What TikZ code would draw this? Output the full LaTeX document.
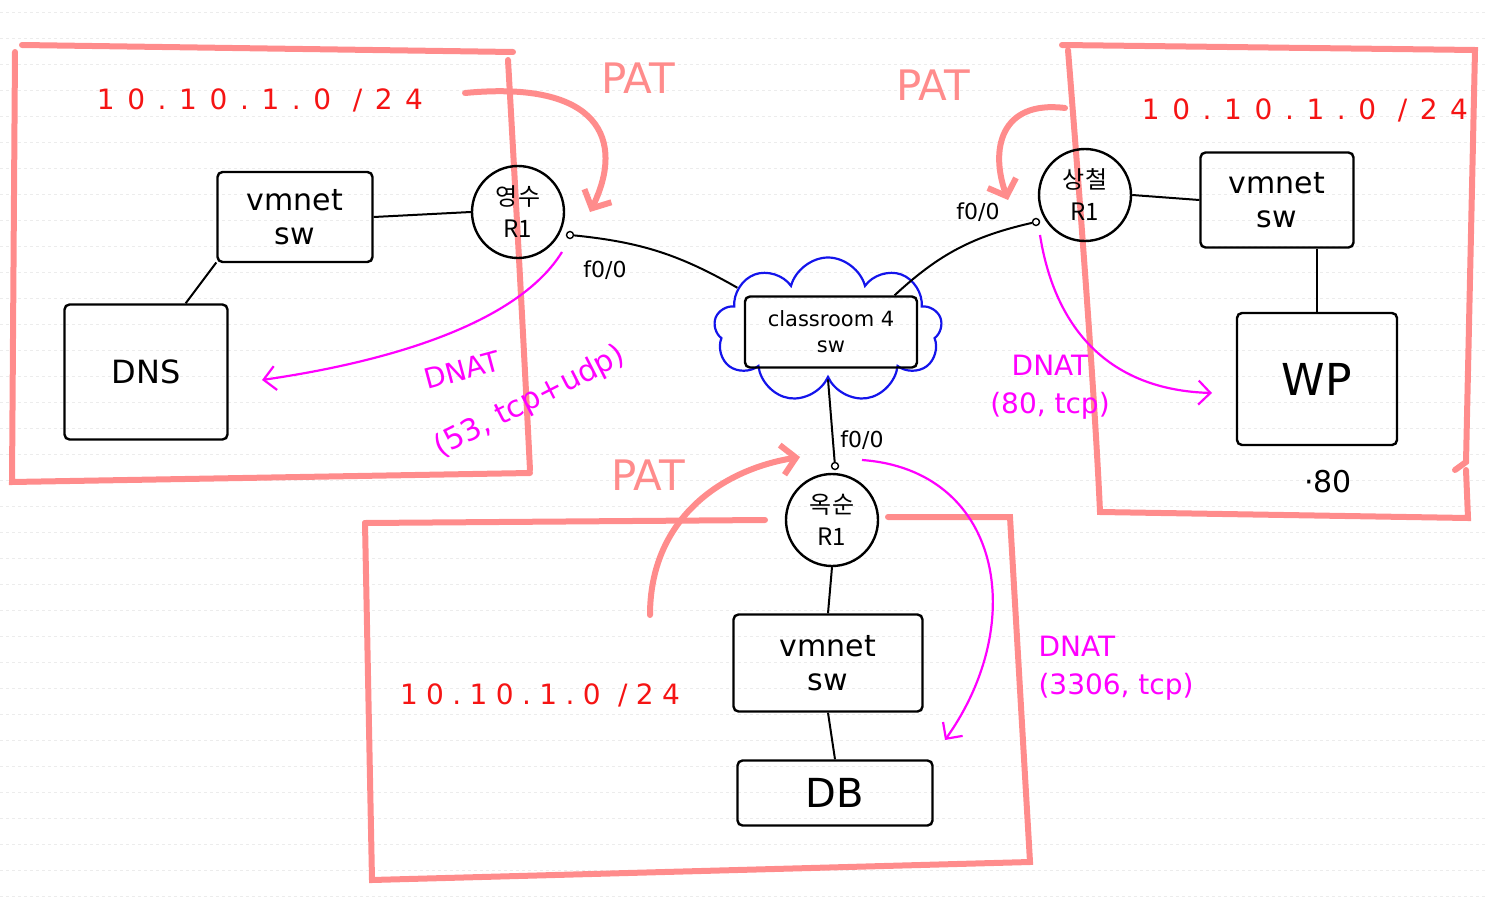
\documentclass[tikz,border=0pt]{standalone}
\usepackage{fontspec}
\setmainfont{DejaVu Sans}
\newfontfamily\krfont{Noto Sans CJK KR}
\usetikzlibrary{shapes.symbols,arrows.meta}

\definecolor{patpink}{RGB}{255,140,140}
\definecolor{ipred}{RGB}{245,20,20}
\definecolor{natpink}{RGB}{255,0,255}
\definecolor{cloudblue}{RGB}{20,20,235}
\definecolor{rulegray}{RGB}{236,236,236}

\newcommand\swfont{\fontsize{30}{34}\selectfont}

\tikzset{
  box/.style={draw, line width=2.4pt, rounded corners=5pt, align=center, inner sep=2pt},
  router/.style={draw, circle, line width=2.4pt, minimum size=92pt, inner sep=0pt,
    align=center, font=\krfont\fontsize{24}{32}\selectfont},
  port/.style={draw, circle, line width=1.4pt, minimum size=7pt, inner sep=0pt},
  link/.style={line width=2pt},
  portlbl/.style={font=\fontsize{22}{24}\selectfont},
  lan/.style={patpink, line width=6pt, line cap=round},
  patarrow/.style={lan, -{Straight Barb[length=14pt,width=30pt]}},
  patlbl/.style={patpink, font=\fontsize{42}{44}\selectfont},
  iplabel/.style={ipred, font=\fontsize{28}{30}\selectfont\addfontfeatures{LetterSpace=45}},
  dnat/.style={natpink, line width=2.2pt, -{Straight Barb[length=12pt,width=24pt]}},
  dnatlbl/.style={natpink, font=\fontsize{28}{38}\selectfont},
}

\begin{document}
\begin{tikzpicture}[x=1pt, y=-1pt]
  \useasboundingbox (0,0) rectangle (1486,902);
  % ruled paper
  \foreach \y in {12,38,...,900}
    \draw[rulegray, dashed, line width=0.8pt] (0,\y) -- (1486,\y);

  % LAN outlines
  \draw[lan] (22,45) -- (513,52);
  \draw[lan] (15,52) -- (12,482) -- (530,473);
  \draw[lan] (508,60) .. controls (516,200) and (524,350) .. (530,470);
  \draw[lan] (1062,45) -- (1475,50) -- (1466,462) -- (1455,470);
  \draw[lan] (1068,50) .. controls (1080,200) and (1095,400) .. (1100,512) -- (1468,518) -- (1466,470);
  \draw[lan] (365,523) -- (765,520);
  \draw[lan] (888,517) -- (1010,517) -- (1030,862) -- (372,880) -- (365,523);

  % PAT
  \node[patlbl] (patL) at (638,78) {PAT};
  \node[patlbl] (patR) at (933,85) {PAT};
  \node[patlbl] (patB) at (648,475) {PAT};
  \coordinate (patLfrom) at (465,93);
  \coordinate (patLto) at (590,212);
  \coordinate (patRfrom) at (1065,108);
  \coordinate (patRto) at (1008,200);
  \coordinate (patBfrom) at (650,615);
  \coordinate (patBto) at (800,457);
  \draw[patarrow] (patLfrom) .. controls (600,80) and (625,140) .. (patLto);
  \draw[patarrow] (patRfrom) .. controls (1000,100) and (990,150) .. (patRto);
  \draw[patarrow] (patBfrom) .. controls (650,520) and (720,470) .. (patBto);

  % subnets
  \node[iplabel] (ipL) at (260,100) {10.10.1.0 /24};
  \node[iplabel] (ipR) at (1305,110) {10.10.1.0 /24};
  \node[iplabel, font=\fontsize{28}{30}\selectfont\addfontfeatures{LetterSpace=30}] (ipB) at (540,695) {10.10.1.0 /24};

  % left site
  \node[box, minimum width=155pt, minimum height=90pt, font=\swfont] (vmnetL) at (295,217) {vmnet\\sw};
  \node[box, minimum width=163pt, minimum height=135pt, font=\fontsize{32}{36}\selectfont] (dns) at (146,372) {DNS};
  \node[router] (rYS) at (518,212) {영수\\R1};
  \node[port] (pYS) at (570,235) {};
  \node[portlbl] (fYS) at (605,270) {f0/0};

  % core
  \node[cloud, draw=cloudblue, line width=2.2pt, cloud puffs=9, minimum width=228pt,
    minimum height=145pt] (cloudnet) at (828,330) {};
  \node[box, minimum width=172pt, minimum height=71pt, font=\fontsize{21}{26}\selectfont] (classsw) at (831,332) {classroom 4\\sw};

  % right site
  \node[router] (rSC) at (1085,195) {상철\\R1};
  \node[port] (pSC) at (1036,222) {};
  \node[portlbl] (fSC) at (978,212) {f0/0};
  \node[box, minimum width=153pt, minimum height=95pt, font=\swfont] (vmnetR) at (1277,200) {vmnet\\sw};
  \node[box, minimum width=160pt, minimum height=132pt, font=\fontsize{44}{48}\selectfont] (wp) at (1317,379) {WP};
  \node[font=\fontsize{30}{32}\selectfont] (wpport) at (1328,482) {·80};

  % bottom site
  \node[router] (rOS) at (832,520) {옥순\\R1};
  \node[port] (pOS) at (835,466) {};
  \node[portlbl] (fOS) at (862,440) {f0/0};
  \node[box, minimum width=189pt, minimum height=97pt, font=\swfont] (vmnetB) at (828,663) {vmnet\\sw};
  \node[box, minimum width=195pt, minimum height=65pt, font=\fontsize{40}{44}\selectfont] (db) at (835,793) {DB};

  % links
  \draw[link] (vmnetL.east) -- (rYS.west);
  \draw[link] (vmnetL.210) -- (dns.60);
  \draw[link] (pYS) to[bend left=12] (cloudnet.155);
  \draw[link] (pSC) to[bend right=15] (classsw.30);
  \draw[link] (cloudnet.south) -- (pOS);
  \draw[link] (rSC.east) -- (vmnetR.west);
  \draw[link] (wp.north |- vmnetR.south) -- (wp.north);
  \draw[link] (rOS.south) -- (vmnetB.north);
  \draw[link] (vmnetB.south) -- (db.north);

  % DNAT
  \coordinate (dnsin) at (262,380);
  \coordinate (wpin) at (1212,393);
  \coordinate (dbin) at (945,740);
  \draw[dnat] (562,252) .. controls (520,320) and (400,360) .. (dnsin);
  \draw[dnat] (1040,235) .. controls (1055,330) and (1110,390) .. (wpin);
  \draw[dnat] (862,460) .. controls (1000,470) and (1030,620) .. (dbin);
  \node[dnatlbl, rotate=15] (natL) at (462,370) {DNAT};
  \node[dnatlbl, rotate=27, font=\fontsize{30}{38}\selectfont] (natLp) at (530,402) {(53, tcp+udp)};
  \node[dnatlbl, align=center] (natR) at (1050,387) {DNAT\\(80, tcp)};
  \node[dnatlbl, align=left, anchor=west] (natB) at (1035,668) {DNAT\\(3306, tcp)};
\end{tikzpicture}
\end{document}
